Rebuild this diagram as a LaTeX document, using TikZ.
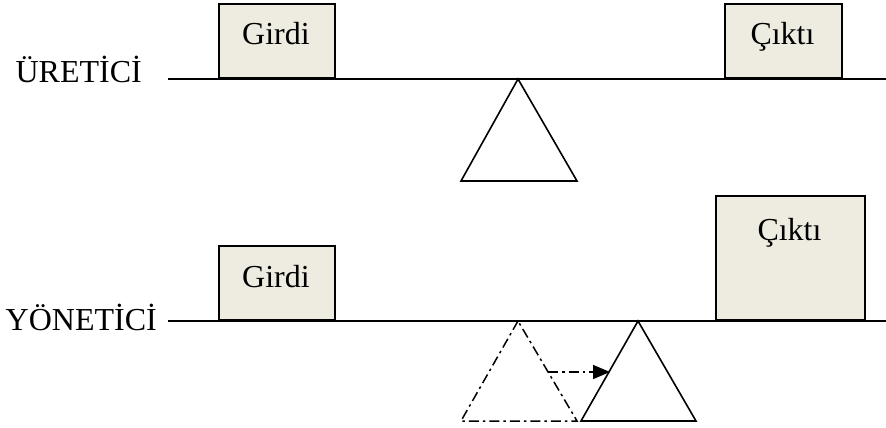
\documentclass[tikz,border=0pt]{standalone}
\usepackage{fontspec}
\setmainfont{Liberation Serif}
\usetikzlibrary{arrows.meta}
\definecolor{boxfill}{HTML}{EEECE1}
\begin{document}
\begin{tikzpicture}[x=1pt,y=-1pt,
  box/.style={draw=black, line width=1.8pt, fill=boxfill, inner sep=0pt, anchor=south west},
  lbl/.style={font=\fontsize{32}{38}\selectfont, inner sep=0pt, anchor=base},
  beam/.style={line width=1.7pt},
  tri/.style={line width=1.6pt, line join=miter},
  ghost/.style={line width=1.5pt, dash pattern=on 10pt off 4pt on 2.5pt off 4pt}]
\useasboundingbox (0,0) rectangle (886,428);

% ---------- top: ÜRETİCİ ----------
\coordinate (b1l) at (168,79);
\coordinate (b1r) at (886,79);
\draw[beam] (b1l) -- (b1r);
\node[lbl, anchor=base east] (ur) at (142,82) {ÜRETİCİ};

\node[box, minimum width=116pt, minimum height=74pt] (g1) at (218,79) {};
\node[lbl] (g1t) at (276,45) {Girdi};
\node[box, minimum width=117pt, minimum height=74pt] (c1) at (724,79) {};
\node[lbl] (c1t) at (782.5,45) {Çıktı};

\coordinate (t1a) at (518,79);
\coordinate (t1l) at (461,181);
\coordinate (t1r) at (577,181);
\draw[tri] (t1a) -- (t1l) -- (t1r) -- cycle;

% ---------- bottom: YÖNETİCİ ----------
\coordinate (b2l) at (168,321);
\coordinate (b2r) at (886,321);
\draw[beam] (b2l) -- (b2r);
\node[lbl, anchor=base east] (yo) at (157,330) {YÖNETİCİ};

\node[box, minimum width=116pt, minimum height=74pt] (g2) at (218,321) {};
\node[lbl] (g2t) at (276,287) {Girdi};
\node[box, minimum width=149pt, minimum height=124pt] (c2) at (715,321) {};
\node[lbl] (c2t) at (789.5,240) {Çıktı};

\coordinate (t2a) at (518,321);
\coordinate (t2l) at (461,421);
\coordinate (t2r) at (577,421);
\draw[ghost] (t2a) -- (t2l) -- (t2r) -- cycle;

\coordinate (t3a) at (638,321);
\coordinate (t3l) at (581,421);
\coordinate (t3r) at (696,421);
\draw[tri] (t3a) -- (t3l) -- (t3r) -- cycle;

\coordinate (as) at (548,372);
\coordinate (ae) at (610,372);
\draw[ghost, -{Triangle[length=17pt,width=14pt]}] (as) -- (ae);
\end{tikzpicture}
\end{document}
